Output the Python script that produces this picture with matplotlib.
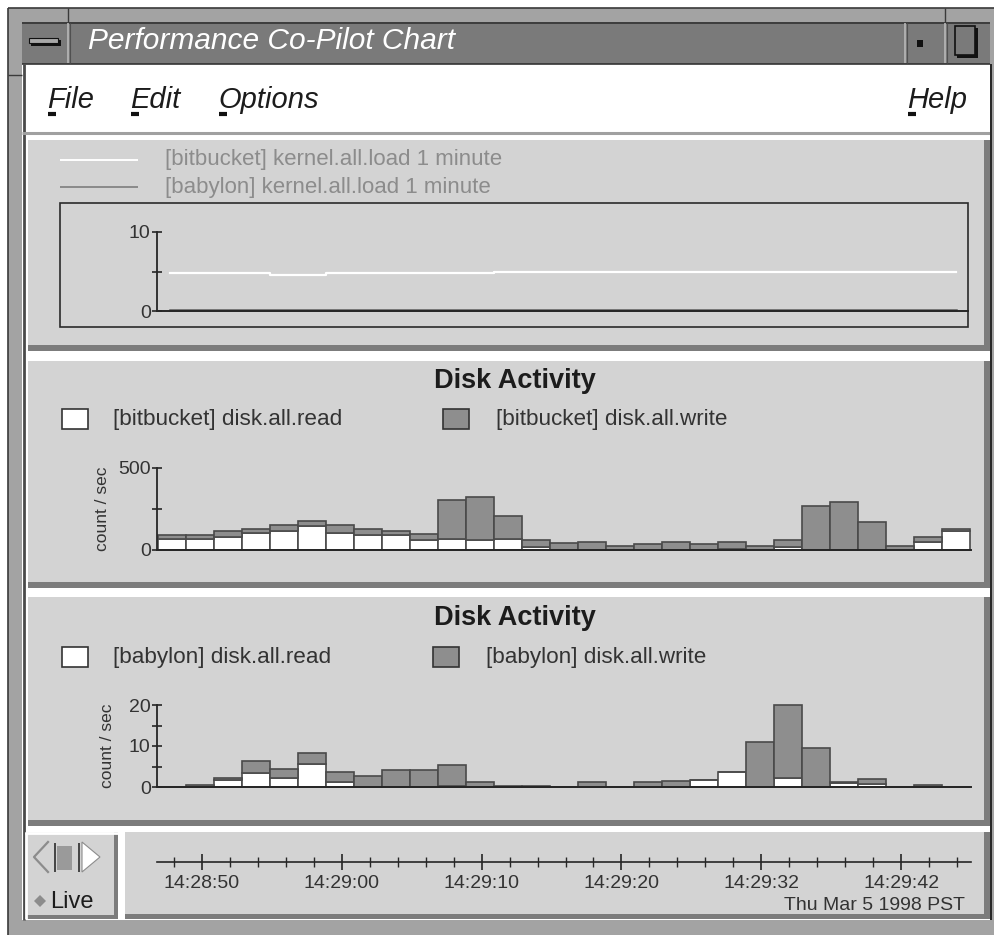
import matplotlib
matplotlib.use("Agg")
import matplotlib.pyplot as plt
import numpy as np
from matplotlib.patches import Rectangle, Polygon

plt.rcParams['font.family'] = ['Liberation Sans', 'DejaVu Sans']

W, H = 995, 935

# ---------------- data ----------------
window_title = "Performance Co-Pilot Chart"
menu_left = ["File", "Edit", "Options"]
menu_right = "Help"

load_labels = ["[bitbucket] kernel.all.load 1 minute", "[babylon] kernel.all.load 1 minute"]
load_t = [0.8, 8.0, 12.0, 24.0, 57.0]          # seconds
bitbucket_load = [4.75, 4.5, 4.75, 4.96, 4.96]
babylon_load = [0.15, 0.15, 0.15, 0.15, 0.15]
load_yticks = [0, 5, 10]
load_yticklabels = ["0", "", "10"]

disk_title = "Disk Activity"
sample_interval = 2.0   # seconds per bar

bitbucket_labels = ["[bitbucket] disk.all.read", "[bitbucket] disk.all.write"]
bitbucket_read = [63, 63, 78, 100, 113, 145, 100, 86, 86, 55, 65, 55, 65, 18, 0,
                  0, 0, 0, 0, 0, 2, 0, 16, 0, 0, 0, 0, 43, 111]
bitbucket_write = [25, 25, 37, 27, 38, 27, 51, 39, 27, 37, 234, 266, 142, 39, 37,
                   47, 23, 35, 47, 35, 45, 23, 41, 264, 287, 170, 23, 35, 12]
bitbucket_yticks = [0, 250, 500]
bitbucket_yticklabels = ["0", "", "500"]

babylon_labels = ["[babylon] disk.all.read", "[babylon] disk.all.write"]
babylon_read = [0, 0, 1.6, 3.4, 2.2, 5.7, 1.1, 0, 0, 0, 0.2, 0, 0, 0, 0,
                0, 0, 0, 0, 1.8, 3.7, 0, 2.2, 0, 0.9, 0.7, 0, 0, 0]
babylon_write = [0, 0.4, 0.6, 2.9, 2.3, 2.5, 2.6, 2.6, 4.1, 4.1, 5.1, 1.3, 0.3, 0.3, 0,
                 1.3, 0, 1.3, 1.4, 0, 0, 11.0, 17.9, 9.5, 0.2, 1.2, 0, 0.4, 0]
babylon_yticks = [0, 5, 10, 15, 20]
babylon_yticklabels = ["0", "", "10", "", "20"]

y_label = "count / sec"

time_major = [3.1, 13.1, 23.1, 33.1, 43.1, 53.1]
time_labels = ["14:28:50", "14:29:00", "14:29:10", "14:29:20", "14:29:32", "14:29:42"]
time_minor_start, time_minor_step, time_minor_n = 1.1, 2.0, 29
date_label = "Thu Mar 5 1998 PST"
live_label = "Live"

# ---------------- colours ----------------
PANEL = '#d3d3d3'
SHADOW = '#7c7c7c'
FRAME = '#a3a3a3'
TITLEBAR = '#7a7a7a'
BARGRAY = '#8e8e8e'
BAREDGE = '#4a4a4a'
TXT = '#1c1c1c'
AXC = '#262626'

fig = plt.figure(figsize=(W / 100, H / 100), dpi=100)
bg = fig.add_axes([0, 0, 1, 1])
bg.set_xlim(0, W)
bg.set_ylim(H, 0)
bg.axis('off')


def rect(x0, y0, x1, y1, fc, ec='none', lw=0, z=1):
    bg.add_patch(Rectangle((x0, y0), x1 - x0, y1 - y0, facecolor=fc,
                           edgecolor=ec, linewidth=lw, zorder=z))


def line(xs, ys, c, lw=1.0, z=3):
    bg.plot(xs, ys, color=c, lw=lw, zorder=z, solid_capstyle='butt')


def panel(x0, y0, x1, y1):
    rect(x0, y0, x1, y1, PANEL, z=2)
    rect(x0, y1 - 6, x1, y1, SHADOW, z=2.1)
    rect(x1 - 6, y0, x1, y1, SHADOW, z=2.1)


# window frame
rect(0, 0, W, H, 'white', z=0)
rect(8, 8, W, H, FRAME, z=0.5)
line([8, W], [8, 8], '#3a3a3a', 1.2)
line([8, 8], [8, H], '#3a3a3a', 1.2)
line([68, 68], [8, 22], '#3a3a3a', 1.0)
line([945, 945], [8, 22], '#3a3a3a', 1.0)
line([8, 22], [75, 75], '#3a3a3a', 1.0)

# title bar
rect(22, 22, 990, 64, TITLEBAR, z=1)
line([22, 990], [22.5, 22.5], '#333333', 1.2)
line([22, 990], [64, 64], '#333333', 1.2)
for xs in (68, 905, 945):
    line([xs, xs], [23, 63], '#b8b8b8', 1.2)
    line([xs + 1.5, xs + 1.5], [23, 63], '#505050', 0.8)
rect(31, 40, 61, 46, '#111111', z=3)
rect(29, 38, 58, 43, '#a8a8a8', ec='#111111', lw=0.8, z=3.1)
rect(917, 40, 923, 47, '#111111', z=3)
rect(957, 28, 978, 58, '#111111', z=3)
rect(955, 26, 975, 55, TITLEBAR, ec='#111111', lw=1.2, z=3.1)
bg.text(88, 41, window_title, color='white', fontsize=21.5, fontstyle='italic',
        va='center', ha='left', zorder=4)

# content area + menu bar
rect(22, 64, 990, 920, 'white', z=1)
line([23.5, 23.5], [64, 920], '#4a4a4a', 2.0)
line([22, 990], [133, 133], '#a0a0a0', 2.2)
menu_x = [47, 130, 218]
for mx, m in zip(menu_x, menu_left):
    bg.text(mx, 100, m, color=TXT, fontsize=21, fontstyle='italic',
            va='center', ha='left', zorder=4)
    line([mx + 1, mx + 9], [114, 114], '#111111', 3.0, z=4)
bg.text(907, 100, menu_right, color=TXT, fontsize=21, fontstyle='italic',
        va='center', ha='left', zorder=4)
line([908, 916], [114, 114], '#111111', 3.0, z=4)

# panels
panel(28, 140, 990, 351)
panel(28, 361, 990, 588)
panel(28, 597, 990, 826)
# bottom row
rect(25, 832, 118, 919, PANEL, z=2)
line([25, 118], [832.5, 832.5], 'white', 2.0)
line([25.5, 25.5], [832, 919], 'white', 2.0)
rect(25, 915, 118, 919, SHADOW, z=2.1)
rect(114, 832, 118, 919, SHADOW, z=2.1)
rect(125, 832, 990, 919, PANEL, z=2)
rect(125, 914, 990, 919, SHADOW, z=2.1)
rect(984, 832, 990, 919, SHADOW, z=2.1)
line([990.5, 990.5], [64, 920], '#111111', 1.2)

# live controls
bg.plot([48, 34, 48], [842, 857, 872], color='#8c8c8c', lw=1.6, zorder=4)
line([55, 55], [843, 872], '#444444', 1.4, z=4)
rect(57, 846, 72, 870, '#9a9a9a', z=4)
line([79, 79], [843, 872], '#444444', 1.4, z=4)
bg.add_patch(Polygon([[82, 842], [100, 857], [82, 872]], closed=True,
                     facecolor='white', edgecolor='#8c8c8c', lw=0.8, zorder=4))
bg.add_patch(Polygon([[40, 895], [46, 901], [40, 907], [34, 901]], closed=True,
                     facecolor='#8c8c8c', edgecolor='none', zorder=4))
bg.text(50, 902, live_label, color=TXT, fontsize=17, va='center', ha='left', zorder=4)

# ---------------- load chart ----------------
PX_PER_S = 13.99


def ax_px(x0, y0, x1, y1):
    a = fig.add_axes([x0 / W, 1 - y1 / H, (x1 - x0) / W, (y1 - y0) / H])
    a.patch.set_visible(False)
    return a


line([60, 138], [160, 160], 'white', 1.4, z=4)
line([60, 138], [187, 187], '#8a8a8a', 1.4, z=4)
bg.text(165, 160, load_labels[0], color='#8c8c8c', fontsize=16, va='center', ha='left', zorder=4)
bg.text(165, 187, load_labels[1], color='#8c8c8c', fontsize=16, va='center', ha='left', zorder=4)
rect(60, 203, 968, 327, 'none', ec='#2a2a2a', lw=1.2, z=4)

ax0 = ax_px(157, 232, 968, 311)
ax0.set_xlim(-0.1, (968 - 157) / PX_PER_S - 0.1)
ax0.set_ylim(0, 10)
ax0.plot(load_t, bitbucket_load, drawstyle='steps-post', color='white', lw=1.6, clip_on=False)
ax0.plot(load_t, babylon_load, drawstyle='steps-post', color='#5a5a5a', lw=1.8, clip_on=False)
ax0.axhline(0, color=AXC, lw=1.4, clip_on=False)

# ---------------- disk charts ----------------


def disk_axes(ax, read, write, yticks):
    n = len(read)
    x = np.arange(n) * sample_interval
    ax.set_xlim(-0.1, (971 - 157) / PX_PER_S - 0.1)
    ax.set_ylim(yticks[0], yticks[-1])
    ax.bar(x, read, width=sample_interval, align='edge', color='white',
           edgecolor=BAREDGE, linewidth=1.2, clip_on=False, zorder=2)
    ax.bar(x, write, bottom=read, width=sample_interval, align='edge', color=BARGRAY,
           edgecolor=BAREDGE, linewidth=1.2, clip_on=False, zorder=2)
    ax.axhline(0, color=AXC, lw=1.4, clip_on=False, zorder=3)


ax1 = ax_px(157, 467.5, 971, 549.5)
disk_axes(ax1, bitbucket_read, bitbucket_write, bitbucket_yticks)
ax2 = ax_px(157, 705, 971, 787)
disk_axes(ax2, babylon_read, babylon_write, babylon_yticks)

for a, yt, yl in ((ax0, load_yticks, load_yticklabels),
                  (ax1, bitbucket_yticks, bitbucket_yticklabels),
                  (ax2, babylon_yticks, babylon_yticklabels)):
    for s in ('top', 'right', 'bottom'):
        a.spines[s].set_visible(False)
    a.spines['left'].set_color(AXC)
    a.spines['left'].set_linewidth(1.3)
    a.set_xticks([])
    a.set_yticks(yt)
    a.set_yticklabels(yl)
    a.tick_params(axis='y', direction='inout', length=7, width=1.2, color=AXC,
                  labelsize=14, labelcolor='#333333', pad=1)

ax1.set_ylabel(y_label, fontsize=12.5, color='#333333', labelpad=6)
ax2.set_ylabel(y_label, fontsize=12.5, color='#333333', labelpad=10)

# titles and legends
for ty, ly, labels, gx in ((381, 419, bitbucket_labels, 443), (618, 657, babylon_labels, 433)):
    bg.text(515, ty, disk_title, fontsize=19.5, fontweight='bold', color=TXT,
            ha='center', va='center', zorder=4)
    rect(62, ly - 10, 88, ly + 10, 'white', ec='#333333', lw=1.2, z=4)
    bg.text(113, ly, labels[0], fontsize=16.2, color='#333333', ha='left', va='center', zorder=4)
    rect(gx, ly - 10, gx + 26, ly + 10, BARGRAY, ec='#333333', lw=1.2, z=4)
    bg.text(gx + 53, ly, labels[1], fontsize=16.2, color='#333333', ha='left', va='center', zorder=4)

# ---------------- time axis ----------------
axT = ax_px(157, 850, 971, 874)
axT.set_xlim(-0.1, (971 - 157) / PX_PER_S - 0.1)
axT.set_ylim(-1, 1)
for s in ('top', 'right', 'left'):
    axT.spines[s].set_visible(False)
axT.spines['bottom'].set_position(('data', 0))
axT.spines['bottom'].set_color(AXC)
axT.spines['bottom'].set_linewidth(1.2)
axT.set_yticks([])
axT.set_xticks(time_major)
axT.set_xticklabels(time_labels)
axT.set_xticks([time_minor_start + k * time_minor_step for k in range(time_minor_n)], minor=True)
axT.tick_params(axis='x', which='major', direction='inout', length=11, width=1.2,
                color=AXC, labelsize=14, labelcolor='#333333', pad=4)
axT.tick_params(axis='x', which='minor', direction='inout', length=7, width=1.0, color=AXC)
bg.text(965, 906, date_label, fontsize=14, color='#333333', ha='right', va='center', zorder=4)

fig.savefig('out.png', dpi=100)
